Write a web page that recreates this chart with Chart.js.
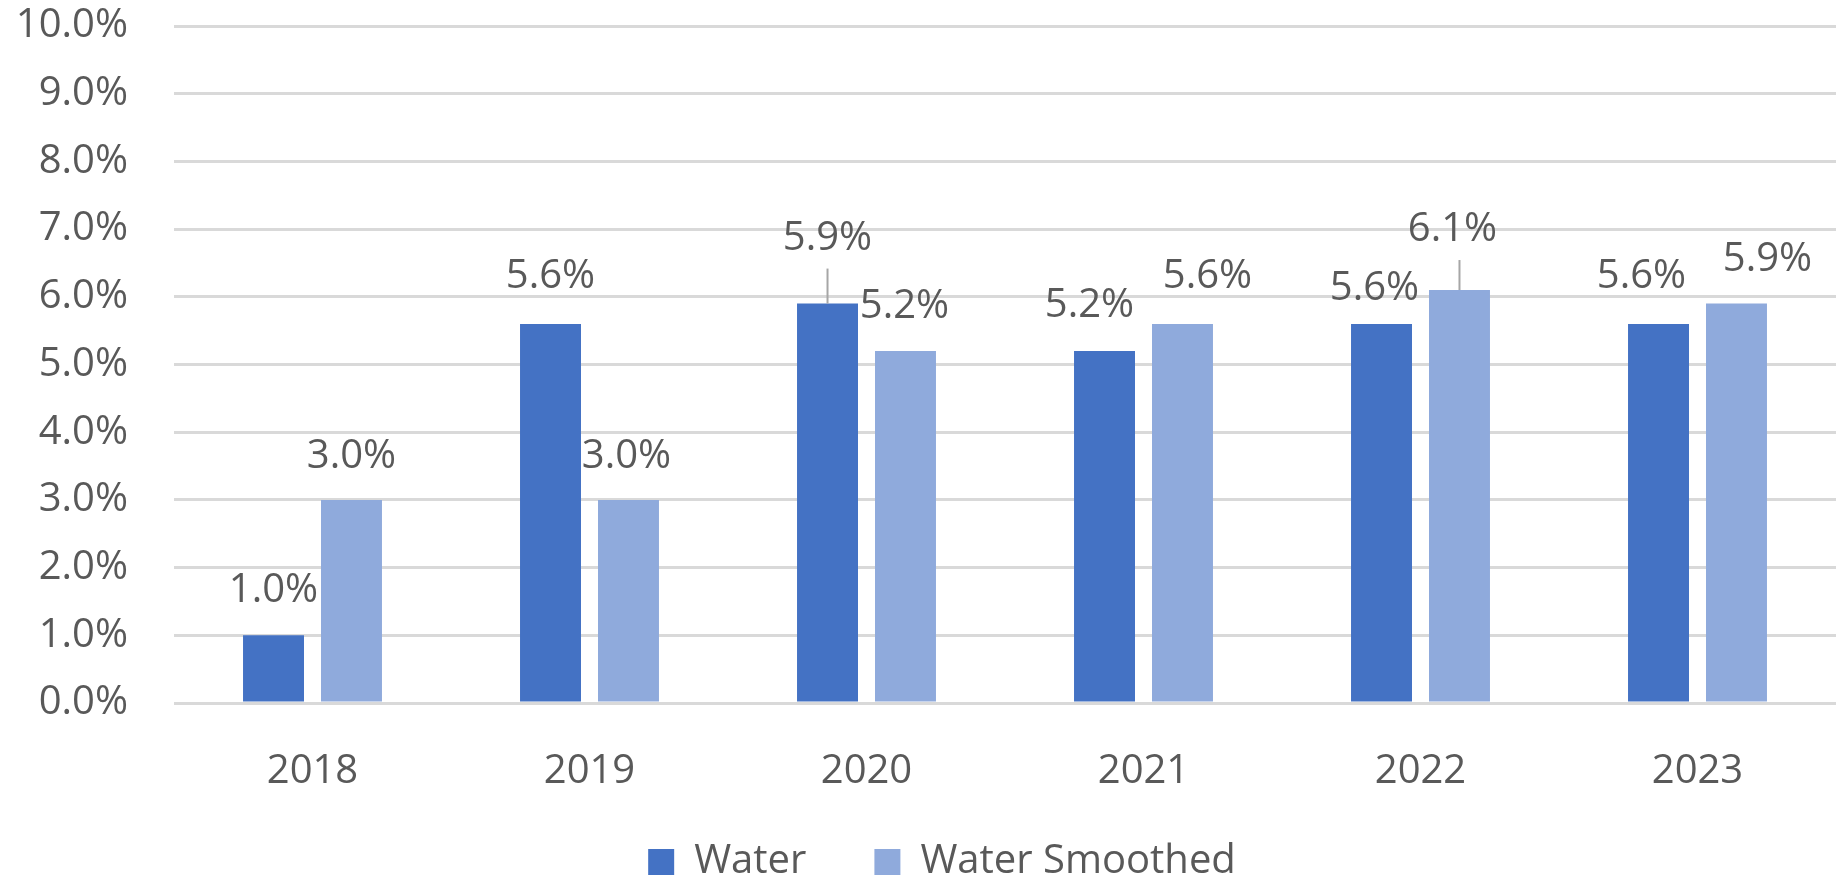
<!DOCTYPE html>
<html>
<head>
<meta charset="utf-8">
<script src="https://cdn.jsdelivr.net/npm/chart.js@4.4.1/dist/chart.umd.min.js"></script>
<style>
  body { margin: 0; background: #fff; }
  #wrap { width: 1844px; height: 878px; }
</style>
</head>
<body>
<div id="wrap"><canvas id="waterChart" width="1844" height="878"></canvas></div>
<script>
const years = ['2018', '2019', '2020', '2021', '2022', '2023']
const water = [1.0, 5.6, 5.9, 5.2, 5.6, 5.6]
const waterSmoothed = [3.0, 3.0, 5.2, 5.6, 6.1, 5.9]
const yMax = 10

// label nudges (px, relative to bar top) - Excel moved some of them around
const waterLabelShift = [[0, -47], [0, -50], [0, -68], [-15, -48], [-7, -38], [-17, -50]]
const smoothLabelShift = [[0, -46], [-2, -46], [-1, -47], [25, -50], [-7, -63], [31, -47]]
const waterLeader = [false, false, true, false, false, false]
const smoothLeader = [false, false, false, false, true, false]

const textGrey = '#595959'
const fontSize = 40
const labelFont = fontSize + 'px "Open Sans"'

const barLabels = {
  id: 'barLabels',
  afterLayout(chart) {
    // legend sits a bit right of centre and tighter to the axis labels in the original
    const lg = chart.legend
    lg.left += 24
    lg.right += 24
    lg.top -= 24
    lg.bottom -= 24
  },
  afterDatasetsDraw(chart) {
    const ctx = chart.ctx
    const shifts = [waterLabelShift, smoothLabelShift]
    const leaders = [waterLeader, smoothLeader]
    ctx.save()
    ctx.font = labelFont
    ctx.fillStyle = textGrey
    ctx.textAlign = 'center'
    ctx.textBaseline = 'alphabetic'
    chart.data.datasets.forEach(function(ds, i) {
      chart.getDatasetMeta(i).data.forEach(function(bar, j) {
        const dx = shifts[i][j][0], dy = shifts[i][j][1]
        const cy = bar.y + dy
        ctx.fillText(ds.data[j].toFixed(1) + '%', bar.x + dx, cy + 14)
        if (leaders[i][j]) {
          ctx.strokeStyle = '#A6A6A6'
          ctx.lineWidth = 2
          ctx.beginPath()
          ctx.moveTo(bar.x, cy + 33)
          ctx.lineTo(bar.x, bar.y)
          ctx.stroke()
        }
      })
    })
    ctx.restore()
  }
}

let ctx = document.getElementById('waterChart').getContext('2d')
ctx.letterSpacing = '2.5px'
new Chart(ctx, {
  type: 'bar',
  data: {
    labels: years,
    datasets: [
      {
        label: 'Water',
        data: water,
        backgroundColor: '#4472C4',
        borderWidth: 0,
        categoryPercentage: 0.563,
        barPercentage: 0.782
      },
      {
        label: 'Water Smoothed',
        data: waterSmoothed,
        backgroundColor: '#8FAADC',
        borderWidth: 0,
        categoryPercentage: 0.563,
        barPercentage: 0.782
      }
    ]
  },
  options: {
    responsive: false,
    animation: false,
    devicePixelRatio: 1,
    layout: { padding: { left: 0, right: 8, top: 26, bottom: -38 } },
    plugins: {
      tooltip: { enabled: false },
      legend: {
        position: 'bottom',
        labels: {
          boxWidth: 26,
          boxHeight: 26,
          padding: 68,
          color: textGrey,
          font: { family: 'Open Sans', size: fontSize }
        }
      }
    },
    scales: {
      x: {
        grid: { display: false },
        border: { display: false },
        ticks: { color: textGrey, padding: 37, font: { family: 'Open Sans', size: fontSize } },
        afterFit: function(scale) { scale.height = 95 }
      },
      y: {
        min: 0,
        max: yMax,
        border: { display: false },
        grid: { color: '#D9D9D9', lineWidth: 3, drawTicks: true, tickLength: 46, tickColor: 'rgba(0,0,0,0)' },
        ticks: {
          stepSize: 1,
          padding: 0,
          color: textGrey,
          font: { family: 'Open Sans', size: fontSize },
          callback: function(v) { return v.toFixed(1) + '%' }
        },
        afterFit: function(scale) { scale.width = 174 }
      }
    }
  },
  plugins: [barLabels]
})
</script>
</body>
</html>
